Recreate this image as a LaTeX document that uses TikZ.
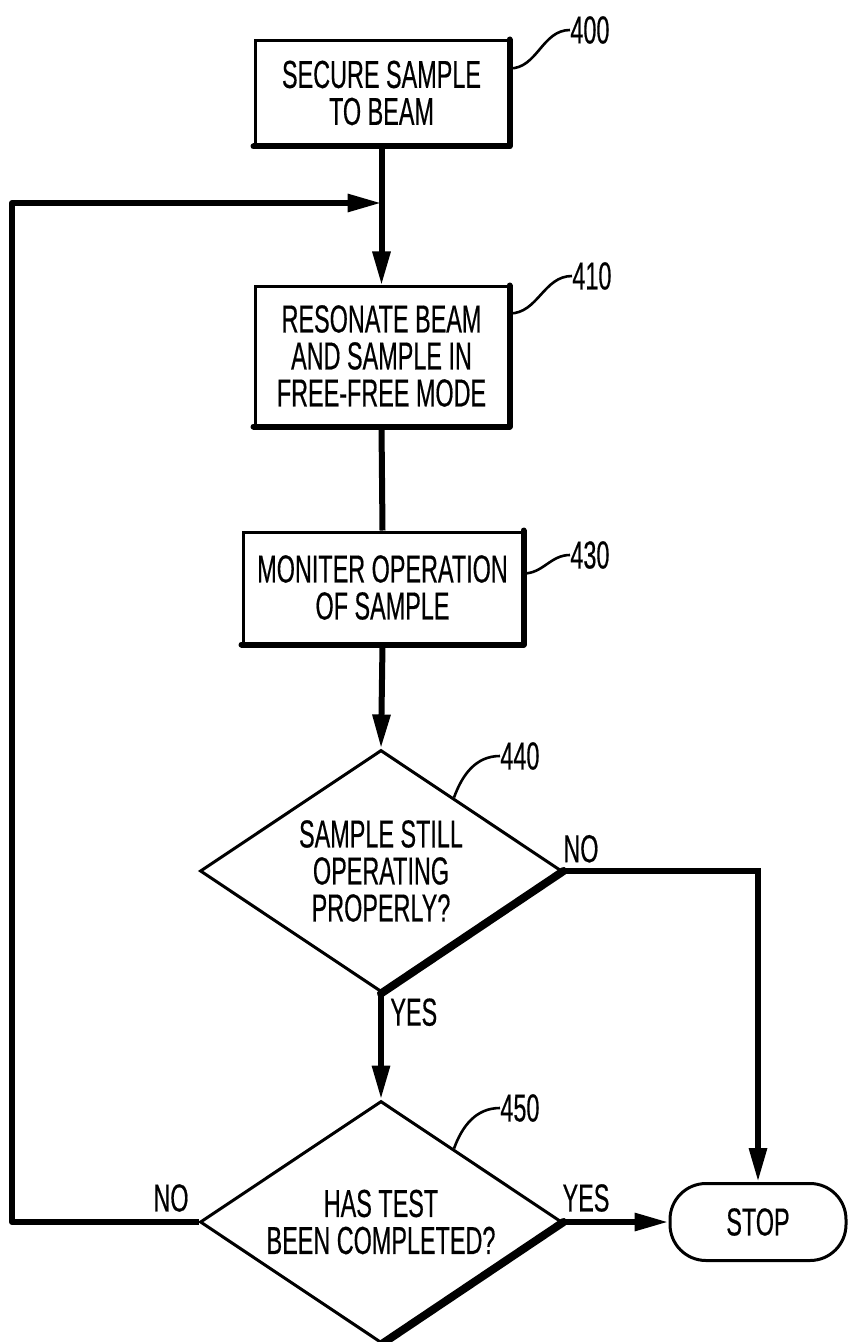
\documentclass[tikz,border=0pt]{standalone}
\usepackage{fontspec}
\setmainfont{Liberation Sans}[FakeStretch=0.6, FakeBold=0.4]
\usetikzlibrary{arrows.meta, shapes.geometric, calc}

\begin{document}
\begin{tikzpicture}[x=0.5pt, y=-0.5pt,
  font=\fontsize{19.5}{18.5}\selectfont,
  stepbox/.style={draw, line width=1.5pt, inner sep=0pt, align=center},
  decision/.style={diamond, draw, line width=1.5pt, aspect=1.5, inner sep=0pt,
    minimum width=181pt, minimum height=121pt, align=center},
  stopbox/.style={draw, line width=1.5pt, rounded corners=18pt,
    minimum width=88pt, minimum height=38.5pt},
  flow/.style={line width=3pt},
  arr/.style={flow, -{Triangle[length=17pt, width=8.5pt]}},
  edgeshadow/.style={line width=3pt, line cap=round, line join=round},
  leader/.style={line width=1.3pt},
  refnum/.style={inner sep=0pt}]
  \useasboundingbox (0,0) rectangle (847,1342);

  % Steps
  \node[stepbox, minimum width=126.5pt, minimum height=52pt] (b400) at (381.5,93) {SECURE SAMPLE\\TO BEAM};
  \node[stepbox, minimum width=126.5pt, minimum height=69pt] (b410) at (381.5,356) {RESONATE BEAM\\AND SAMPLE IN\\FREE-FREE MODE};
  \node[stepbox, minimum width=139.5pt, minimum height=55.5pt] (b430) at (382.5,587.5) {MONITER OPERATION\\OF SAMPLE};
  \draw[edgeshadow] (b400.north east) -- (b400.south east) -- (b400.south west);
  \draw[edgeshadow] (b410.north east) -- (b410.south east) -- (b410.south west);
  \draw[edgeshadow] (b430.north east) -- (b430.south east) -- (b430.south west);

  % Decisions
  \node[decision] (d440) at (381,871) {SAMPLE STILL\\OPERATING\\PROPERLY?};
  \node[decision] (d450) at (381,1222) {HAS TEST\\BEEN COMPLETED?};
  \draw[edgeshadow, line width=4pt] (d440.east) -- (d440.south);
  \draw[edgeshadow, line width=4pt] (d450.east) -- (d450.south);

  % Stop
  \node[stopbox] (stop) at (758,1222) {STOP};

  % Reference numerals
  \node[refnum, anchor=west] (l400) at (570,30) {400};
  \node[refnum, anchor=west] (l410) at (572,276) {410};
  \node[refnum, anchor=west] (l430) at (570,555) {430};
  \node[refnum, anchor=west] (l440) at (500,756) {440};
  \node[refnum, anchor=west] (l450) at (500,1108) {450};
  \draw[leader] ($(b400.north east)+(0,29)$) to[out=0, in=180] (l400.west);
  \draw[leader] ($(b410.north east)+(0,28)$) to[out=0, in=180] (l410.west);
  \draw[leader] ($(b430.north east)+(0,43)$) to[out=0, in=180] (l430.west);
  \draw[leader] ($(d440.north)!0.4!(d440.east)$) to[out=70, in=180] (l440.west);
  \draw[leader] ($(d450.north)!0.4!(d450.east)$) to[out=70, in=180] (l450.west);

  % Branch labels
  \node[refnum, anchor=south west] (no440) at (563,863) {NO};
  \node[refnum, anchor=north west] (yes440) at (390,998) {YES};
  \node[refnum] (no450) at (171,1198) {NO};
  \node[refnum] (yes450) at (586,1198) {YES};

  % Flow
  \coordinate (join) at (381.5,203);
  \coordinate (loopcorner) at (12,1222);
  \draw[arr] (b400.south) -- (b410.north);
  \draw[arr, line join=round] (d450.west) -- (loopcorner) |- (join);
  \draw[flow] (b410.south) -- (b430.north);
  \draw[arr] (b430.south) -- (d440.north);
  \draw[arr] (d440.south) -- (d450.north);
  \draw[arr] (d440.east) -| (stop.north);
  \draw[arr] (d450.east) -- (stop.west);
\end{tikzpicture}
\end{document}
